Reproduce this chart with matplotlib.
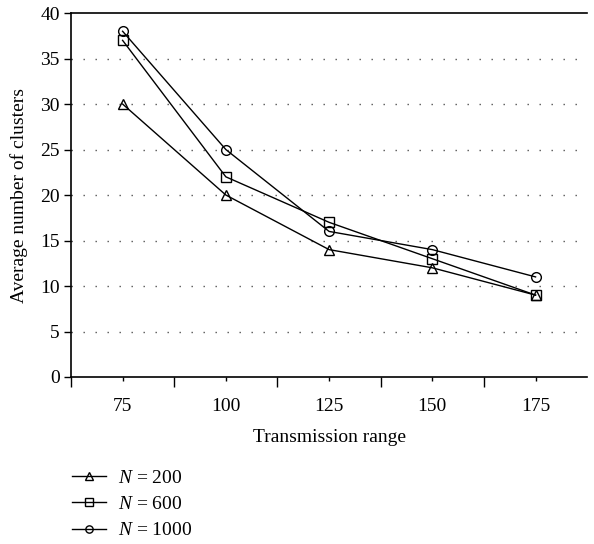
import matplotlib
matplotlib.use("Agg")
import matplotlib.pyplot as plt
from matplotlib.ticker import MultipleLocator, FixedLocator

plt.rcParams['font.family'] = ['Liberation Serif', 'DejaVu Serif']
plt.rcParams['mathtext.fontset'] = 'custom'
plt.rcParams['mathtext.it'] = 'Liberation Serif:italic'
plt.rcParams['mathtext.rm'] = 'Liberation Serif'

ranges = [75, 100, 125, 150, 175]
n200 = [30, 20, 14, 12, 9]
n600 = [37, 22, 17, 13, 9]
n1000 = [38, 25, 16, 14, 11]
series = [(n200, '^', r'$N$ = 200'), (n600, 's', r'$N$ = 600'), (n1000, 'o', r'$N$ = 1000')]

fig = plt.figure(figsize=(5.94, 5.44), dpi=100)
ax = fig.add_axes([0.1195, 0.307, 0.869, 0.669])

handles = []
for vals, m, lab in series:
    h, = ax.plot(ranges, vals, color='black', lw=1.0, marker=m, markersize=7,
                 markerfacecolor='none', markeredgecolor='black', markeredgewidth=1.0,
                 label=lab, zorder=3)
    handles.append(h)

ax.set_xlim(62.5, 187.5)
ax.set_ylim(0, 40)
ax.yaxis.set_major_locator(MultipleLocator(5))
ax.xaxis.set_major_locator(FixedLocator(ranges))
ax.xaxis.set_minor_locator(FixedLocator([62.5, 87.5, 112.5, 137.5, 162.5]))
ax.tick_params(axis='x', which='major', length=3, width=1, direction='out', labelsize=14, pad=12)
ax.tick_params(axis='x', which='minor', length=7, width=1, direction='out')
ax.tick_params(axis='y', which='major', length=5, width=1, direction='out', labelsize=14, pad=3)

for s in ['left', 'bottom', 'top']:
    ax.spines[s].set_linewidth(1.2)
ax.spines['right'].set_visible(False)

for yv in range(5, 40, 5):
    ax.axhline(yv, color='#555555', lw=1.0, linestyle=(0, (1, 7.64)), zorder=1)

ax.set_xlabel('Transmission range', fontsize=14, labelpad=10)
ax.set_ylabel('Average number of clusters', fontsize=14, labelpad=9)

leg = fig.legend(handles=handles, loc='upper left', bbox_to_anchor=(0.108, 0.152),
                 frameon=False, fontsize=14, handlelength=1.75, handletextpad=0.6,
                 labelspacing=0.45, borderaxespad=0, markerscale=0.75)

fig.savefig('out.png', dpi=100)
